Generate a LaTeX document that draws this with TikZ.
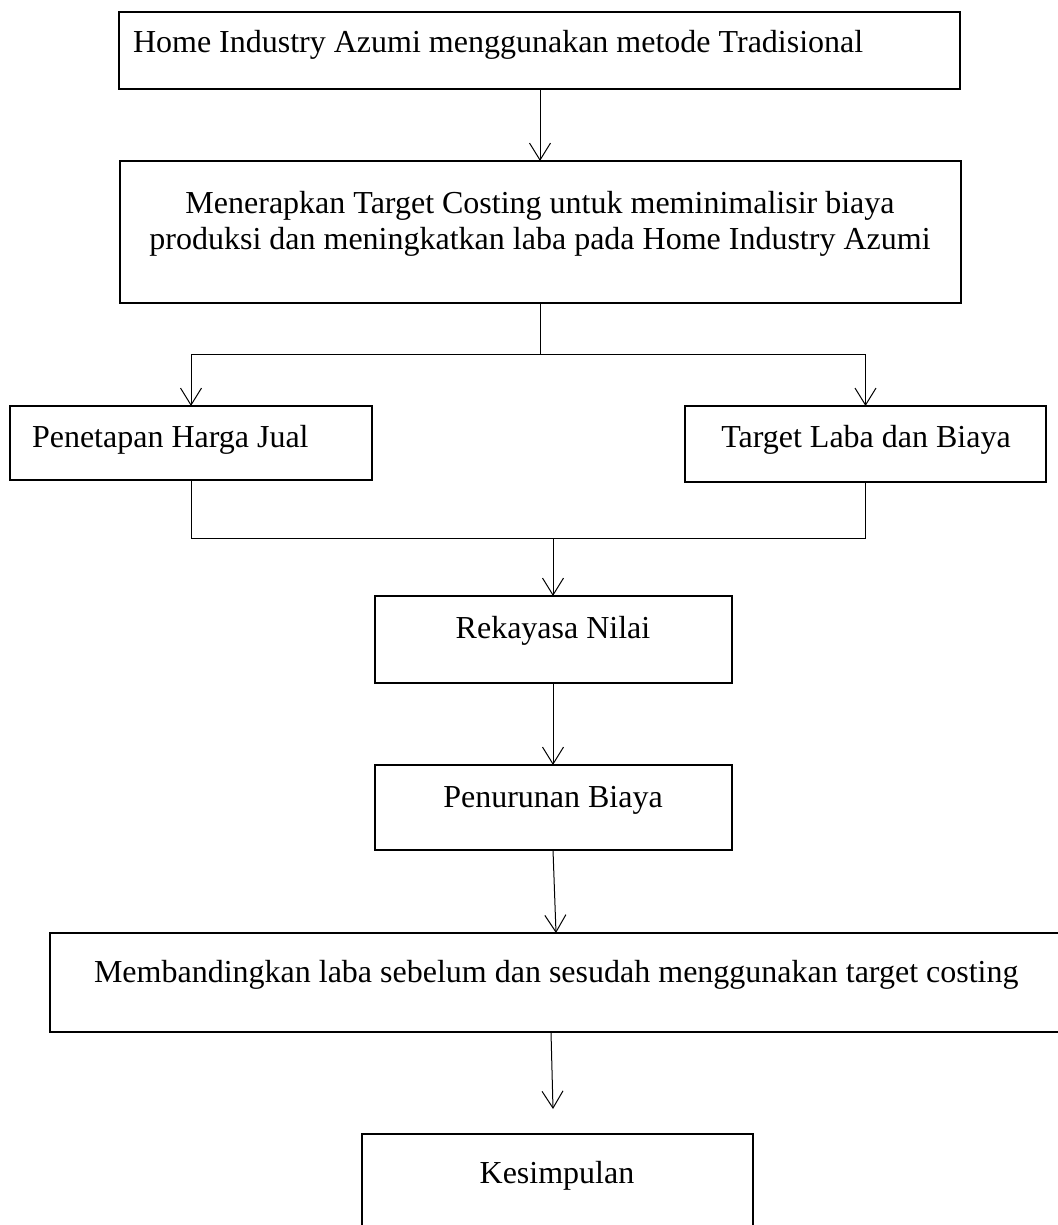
\documentclass[tikz,border=0pt]{standalone}
\usepackage{fontspec}
\setmainfont{Liberation Serif}
\usetikzlibrary{arrows.meta}
\tikzset{
  box/.style={draw, line width=2.2pt, inner sep=0pt, outer sep=0pt, anchor=north west},
  txt/.style={inner sep=0pt, outer sep=0pt, font=\fontsize{32}{38}\selectfont},
  conn/.style={line width=1pt},
  arr/.style={conn, -{Straight Barb[length=17pt,width=21pt]}}
}
\begin{document}
\begin{tikzpicture}[x=1pt,y=-1pt]
\useasboundingbox (0,0) rectangle (1057,1225);
% boxes
\node[box, minimum width=841pt, minimum height=77pt] (b1) at (119,12) {};
\node[box, minimum width=841pt, minimum height=142pt] (b2) at (120,161) {};
\node[box, minimum width=362pt, minimum height=74pt] (b3) at (10,406) {};
\node[box, minimum width=361pt, minimum height=76pt] (b4) at (685,406) {};
\node[box, minimum width=357pt, minimum height=87pt] (b5) at (375,596) {};
\node[box, minimum width=357pt, minimum height=85pt] (b6) at (375,765) {};
\node[box, minimum width=1015pt, minimum height=99pt] (b7) at (50,933) {};
\node[box, minimum width=391pt, minimum height=120pt] (b8) at (362,1134) {};
% texts
\node[txt, anchor=base west] (t1) at (133,53) {Home Industry Azumi menggunakan metode Tradisional};
\node[txt, anchor=base] (t2a) at (540,213) {Menerapkan Target Costing untuk meminimalisir biaya};
\node[txt, anchor=base] (t2b) at (540,249) {produksi dan meningkatkan laba pada Home Industry Azumi};
\node[txt, anchor=base west] (t3) at (32,447) {Penetapan Harga Jual};
\node[txt, anchor=base] (t4) at (866,447) {Target Laba dan Biaya};
\node[txt, anchor=base] (t5) at (553,638) {Rekayasa Nilai};
\node[txt, anchor=base] (t6) at (553,807) {Penurunan Biaya};
\node[txt, anchor=base west] (t7) at (94,982) {Membandingkan laba sebelum dan sesudah menggunakan target costing};
\node[txt, anchor=base] (t8) at (557,1183) {Kesimpulan};
% connectors
\coordinate (a1) at (540,89);
\coordinate (j1) at (540,354);
\coordinate (j2) at (553,538);
\coordinate (b7in) at (556,933);
\coordinate (b7out) at (551,1032);
\coordinate (endp) at (553,1109);
\draw[arr] (a1) -- (a1 |- b2.north);
\draw[conn] (b2.south -| j1) -- (j1);
\draw[arr] (j1) -| (b3.north);
\draw[arr] (j1) -| (b4.north);
\draw[conn] (b3.south) |- (j2);
\draw[conn] (b4.south) |- (j2);
\draw[arr] (j2) -- (j2 |- b5.north);
\draw[arr] (b5.south -| j2) -- (j2 |- b6.north);
\draw[arr] (b6.south -| j2) -- (b7in);
\draw[arr] (b7out) -- (endp);
\end{tikzpicture}
\end{document}
